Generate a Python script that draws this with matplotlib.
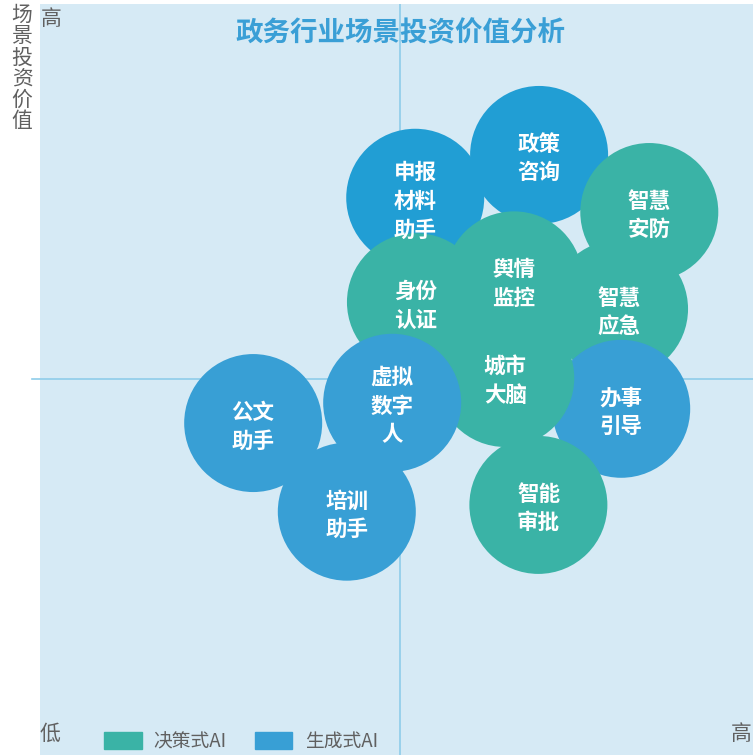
import matplotlib
matplotlib.use("Agg")
from matplotlib import pyplot as plt
from matplotlib.patches import Patch

plt.rcParams['font.family'] = ['Noto Sans CJK SC', 'DejaVu Sans']

# Scenario bubbles (x: 0-9.9, y: 0-10, quadrant centre at 5,5), listed in draw order
labels = ['申报\n材料\n助手', '政策\n咨询', '智慧\n安防', '身份\n认证', '舆情\n监控', '智慧\n应急',
          '办事\n引导', '城市\n大脑', '公文\n助手', '培训\n助手', '虚拟\n数字\n人', '智能\n审批']
x_vals = [5.21, 6.93, 8.46, 5.22, 6.58, 8.04, 8.07, 6.46, 2.96, 4.26, 4.89, 6.92]
y_vals = [7.42, 7.99, 7.23, 6.03, 6.32, 5.94, 4.61, 5.02, 4.42, 3.24, 4.69, 3.33]
kinds = ['gen2', 'gen2', 'dec', 'dec', 'dec', 'dec', 'gen', 'dec', 'gen', 'gen', 'gen', 'dec']

legend_names = ['决策式AI', '生成式AI']

colors = {'dec': '#3AB3A6', 'gen': '#389FD5', 'gen2': '#219ED4'}
bg = '#D6EAF5'
line_col = '#8FCDEA'
grey = '#606060'

fig = plt.figure(figsize=(7.53, 7.55), dpi=100)
ax = fig.add_axes([40 / 753, 0, 713 / 753, 751 / 755])
ax.set_facecolor(bg)
ax.set_xlim(0, 9.9)
ax.set_ylim(0, 10)
for s in ax.spines.values():
    s.set_visible(False)
ax.set_xticks([])
ax.set_yticks([])

# quadrant lines
ax.plot([-0.11, 9.9], [5, 5], color=line_col, lw=1.2, clip_on=False, zorder=1)
ax.plot([5, 5], [0, 10], color=line_col, lw=1.2, zorder=1)

# bubbles
size = (2 * 69 * 0.72) ** 2
ax.scatter(x_vals, y_vals, s=size, c=[colors[k] for k in kinds], linewidths=0, zorder=2)
for lab, xv, yv in zip(labels, x_vals, y_vals):
    ax.annotate(lab, (xv, yv), xytext=(0, -2.5), textcoords='offset points',
                ha='center', va='center', color='white', fontsize=15.5,
                fontweight='bold', linespacing=1.45, zorder=3)

# title and axis hints
fig.text(400 / 753, 1 - 33 / 755, '政务行业场景投资价值分析', ha='center', va='center',
         fontsize=19.8, fontweight='bold', color='#3A9FD6')
fig.text(22 / 753, 1 - 68 / 755, '\n'.join('场景投资价值'), ha='center', va='center',
         fontsize=15, color=grey, linespacing=0.95)
fig.text(51 / 753, 1 - 19 / 755, '高', ha='center', va='center', fontsize=15, color=grey)
fig.text(50 / 753, 1 - 734 / 755, '低', ha='center', va='center', fontsize=15, color=grey)
fig.text(741 / 753, 1 - 734 / 755, '高', ha='center', va='center', fontsize=15, color=grey)

handles = [Patch(color=colors['dec']), Patch(color=colors['gen'])]
ax.legend(handles, legend_names, loc='lower left', bbox_to_anchor=(64 / 713, 0.004), ncol=2,
          frameon=False, fontsize=13.5, handlelength=2.0, handleheight=1.05,
          handletextpad=0.65, columnspacing=1.5, borderpad=0, borderaxespad=0,
          labelcolor=grey)

fig.savefig('out.png', dpi=100)
